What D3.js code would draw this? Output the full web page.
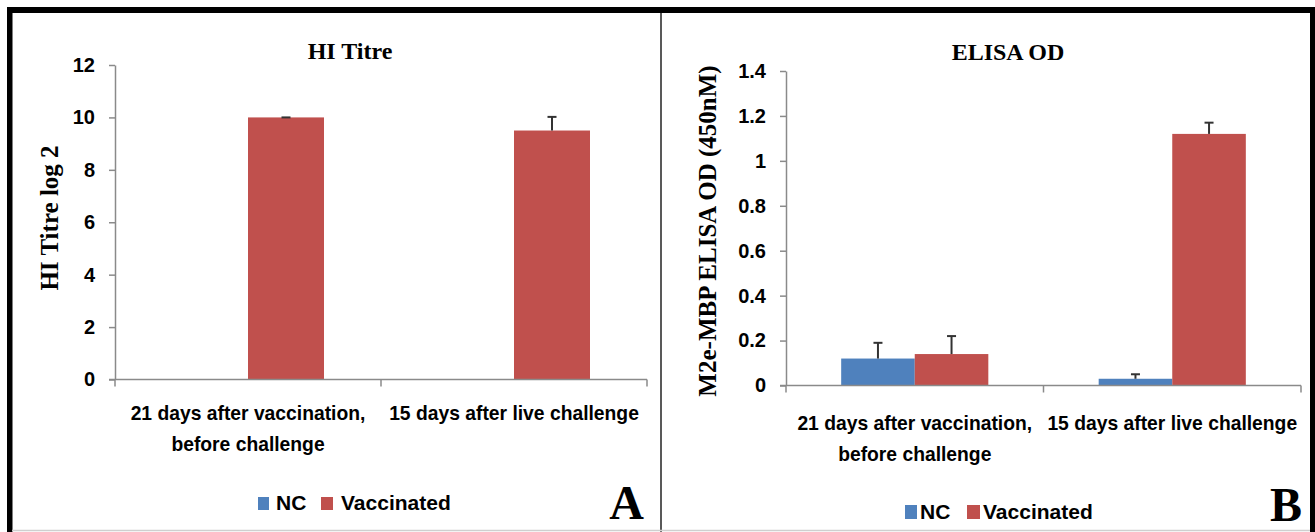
<!DOCTYPE html>
<html>
<head>
<meta charset="utf-8">
<script src="https://cdn.jsdelivr.net/npm/d3@7"></script>
<style>
  html, body { margin: 0; padding: 0; background: #fff; }
  svg { display: block; }
  .tick-label { font-family: "Liberation Sans", Arial, sans-serif; font-weight: bold; font-size: 20px; fill: #000; }
  .cat-label { font-family: "Liberation Sans", Arial, sans-serif; font-weight: bold; font-size: 19.3px; fill: #000; }
  .legend-label { font-family: "Liberation Sans", Arial, sans-serif; font-weight: bold; font-size: 21px; fill: #000; }
  .title { font-family: "Liberation Serif", "Times New Roman", serif; font-weight: bold; font-size: 24px; fill: #000; }
  .ytitle { font-family: "Liberation Serif", "Times New Roman", serif; font-weight: bold; font-size: 25px; fill: #000; }
  .letter { font-family: "Liberation Serif", "Times New Roman", serif; font-weight: bold; font-size: 48px; fill: #000; }
</style>
</head>
<body>
<svg id="chart" width="1315" height="532"></svg>
<script>
// ---------- DATA ----------
const categoryLines = [
  ["21 days after vaccination,", "before challenge"],
  ["15 days after live challenge"]
];
const seriesNames = ["NC", "Vaccinated"];
const seriesColors = ["#4F81BD", "#C0504D"];

// Panel A: HI Titre (log 2)
const hiNC = [0, 0];
const hiNCErr = [0, 0];
const hiVaccinated = [10, 9.5];
const hiVaccinatedErr = [0, 0.52];
const hiTicks = [0, 2, 4, 6, 8, 10, 12];
const hiTickLabels = ["0", "2", "4", "6", "8", "10", "12"];

// Panel B: ELISA OD
const odNC = [0.12, 0.03];
const odNCErr = [0.07, 0.02];
const odVaccinated = [0.14, 1.12];
const odVaccinatedErr = [0.08, 0.05];
const odTicks = [0, 0.2, 0.4, 0.6, 0.8, 1.0, 1.2, 1.4];
const odTickLabels = ["0", "0.2", "0.4", "0.6", "0.8", "1", "1.2", "1.4"];

// ---------- DRAW ----------
const svg = d3.select("#chart");
svg.append("rect").attr("x", 0).attr("y", 0).attr("width", 1315).attr("height", 532).attr("fill", "#fff");

function drawPanel(cfg) {
  const g = svg.append("g");
  const y = d3.scaleLinear().domain([0, cfg.yMax]).range([cfg.y0, cfg.y1]);
  const x0 = d3.scaleBand().domain(d3.range(categoryLines.length)).range([cfg.xL, cfg.xR]).padding(0);
  const x1 = d3.scaleBand().domain(d3.range(seriesNames.length)).range([0, x0.bandwidth()]).paddingInner(0).paddingOuter(0.75);

  // y axis
  const yAxis = d3.axisLeft(y).tickValues(cfg.ticks).tickSize(6).tickSizeOuter(0)
    .tickFormat((d, i) => cfg.tickLabels[i]).tickPadding(14);
  const ya = g.append("g").attr("transform", `translate(${cfg.xL},0)`).call(yAxis);
  ya.select(".domain").attr("stroke", "#8a8a8a").attr("stroke-width", 1.5);
  ya.selectAll(".tick line").attr("stroke", "#8a8a8a").attr("stroke-width", 1.5);
  ya.selectAll(".tick text").attr("class", "tick-label").attr("font-family", null).attr("font-size", null);

  // bars
  const valueSets = [cfg.nc, cfg.vac];
  const errSets = [cfg.ncErr, cfg.vacErr];
  valueSets.forEach((vals, s) => {
    g.selectAll(null).data(vals).enter().append("rect")
      .attr("x", (d, i) => x0(i) + x1(s))
      .attr("width", x1.bandwidth())
      .attr("y", d => y(d))
      .attr("height", d => y(0) - y(d))
      .attr("fill", seriesColors[s]);
  });
  // error bars (upper only)
  valueSets.forEach((vals, s) => {
    vals.forEach((v, i) => {
      if (v === 0) return;
      const cx = x0(i) + x1(s) + x1.bandwidth() / 2;
      const e = errSets[s][i];
      g.append("line").attr("x1", cx).attr("x2", cx).attr("y1", y(v)).attr("y2", y(v + e))
        .attr("stroke", "#333").attr("stroke-width", 2);
      g.append("line").attr("x1", cx - 4.5).attr("x2", cx + 4.5).attr("y1", y(v + e)).attr("y2", y(v + e))
        .attr("stroke", "#333").attr("stroke-width", 2);
    });
  });

  // x axis
  g.append("line").attr("x1", cfg.xL - 6).attr("x2", cfg.xR).attr("y1", y(0)).attr("y2", y(0))
    .attr("stroke", "#8a8a8a").attr("stroke-width", 1.5);
  const edges = d3.range(categoryLines.length).map(i => x0(i)).concat([cfg.xR]);
  g.selectAll(null).data(edges).enter().append("line")
    .attr("x1", d => d).attr("x2", d => d).attr("y1", y(0)).attr("y2", y(0) + 7)
    .attr("stroke", "#8a8a8a").attr("stroke-width", 1.5);

  // category labels
  categoryLines.forEach((lines, i) => {
    const cx = x0(i) + x0.bandwidth() / 2;
    lines.forEach((t, j) => {
      g.append("text").attr("class", "cat-label").attr("text-anchor", "middle")
        .attr("x", cx).attr("y", cfg.catY + j * 30.8).text(t);
    });
  });

  // title
  g.append("text").attr("class", "title").attr("text-anchor", "middle")
    .attr("x", cfg.titleX).attr("y", cfg.titleY).text(cfg.title);
  // y title
  g.append("text").attr("class", "ytitle").attr("text-anchor", "middle")
    .attr("transform", `translate(${cfg.yTitleX},${cfg.yTitleY}) rotate(-90)`).text(cfg.yTitle);

  // legend
  const L = cfg.legend;
  g.append("rect").attr("x", L.sq[0]).attr("y", L.sqY).attr("width", L.sqW[0]).attr("height", L.sqH).attr("fill", seriesColors[0]);
  g.append("text").attr("class", "legend-label").attr("x", L.tx[0]).attr("y", L.base).text(seriesNames[0]);
  g.append("rect").attr("x", L.sq[1]).attr("y", L.sqY).attr("width", L.sqW[1]).attr("height", L.sqH).attr("fill", seriesColors[1]);
  g.append("text").attr("class", "legend-label").attr("x", L.tx[1]).attr("y", L.base).text(seriesNames[1]);

  // panel letter
  g.append("text").attr("class", "letter").attr("text-anchor", "end")
    .attr("x", cfg.letterX).attr("y", cfg.letterY).text(cfg.letter);
}

drawPanel({
  xL: 115, xR: 647, y0: 379.5, y1: 65, yMax: 12,
  ticks: hiTicks, tickLabels: hiTickLabels,
  nc: hiNC, ncErr: hiNCErr, vac: hiVaccinated, vacErr: hiVaccinatedErr,
  catY: 420, title: "HI Titre", titleX: 350, titleY: 59,
  yTitle: "HI Titre log 2", yTitleX: 58, yTitleY: 218,
  legend: { sq: [258, 321], sqW: [11, 12], sqY: 497, sqH: 13, tx: [276, 341], base: 510 },
  letter: "A", letterX: 644, letterY: 519
});

drawPanel({
  xL: 786, xR: 1301, y0: 385.5, y1: 71, yMax: 1.4,
  ticks: odTicks, tickLabels: odTickLabels,
  nc: odNC, ncErr: odNCErr, vac: odVaccinated, vacErr: odVaccinatedErr,
  catY: 430, title: "ELISA OD", titleX: 1008, titleY: 60,
  yTitle: "M2e-MBP ELISA OD (450nM)", yTitleX: 716, yTitleY: 231,
  legend: { sq: [905, 967], sqW: [12, 13], sqY: 505, sqH: 14, tx: [920, 983], base: 519 },
  letter: "B", letterX: 1302, letterY: 521
});

// frame
svg.append("rect").attr("x", 7).attr("y", 7).attr("width", 1303).attr("height", 6).attr("fill", "#000");
svg.append("rect").attr("x", 7).attr("y", 7).attr("width", 5.5).attr("height", 525).attr("fill", "#000");
svg.append("rect").attr("x", 1310).attr("y", 7).attr("width", 5).attr("height", 525).attr("fill", "#000");
svg.append("line").attr("x1", 661).attr("x2", 661).attr("y1", 13).attr("y2", 532).attr("stroke", "#222").attr("stroke-width", 1.5);
svg.append("line").attr("x1", 12).attr("x2", 1310).attr("y1", 530.5).attr("y2", 530.5).attr("stroke", "#cfcfcf").attr("stroke-width", 1.5);
</script>
</body>
</html>
